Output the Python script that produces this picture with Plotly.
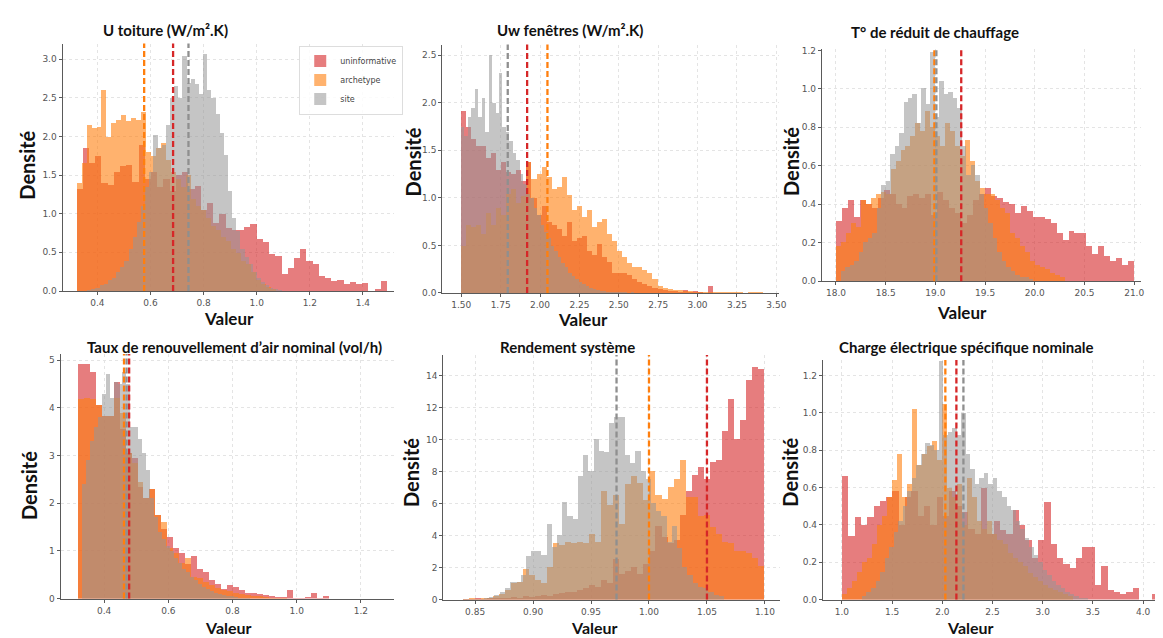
import plotly.graph_objects as go

W, H = 1163, 638

# ------------------------------------------------------------------ data
titles = ["U toiture (W/m².K)", "Uw fenêtres (W/m².K)", "T° de réduit de chauffage",
          "Taux de renouvellement d’air nominal (vol/h)", "Rendement système",
          "Charge électrique spécifique nominale"]
series = ["uninformative", "archetype", "site"]

# bin edges: (first edge, bin width) for uninformative, archetype, site
u_toiture_bins = [(0.32, 0.0234), (0.32, 0.0188), (0.36, 0.0156)]
u_toiture_uninformative = [1.32, 1.85, 1.66, 1.75, 1.40, 1.38, 1.55, 1.62, 1.64, 1.42,
                           1.90, 1.45, 1.55, 1.35, 1.45, 1.30, 1.50, 1.55, 1.32, 1.36,
                           1.05, 1.15, 0.88, 1.00, 0.82, 0.79, 0.80, 0.83, 0.87, 0.68,
                           0.64, 0.49, 0.46, 0.23, 0.30, 0.43, 0.55, 0.40, 0.36, 0.20,
                           0.18, 0.13, 0.15, 0.10, 0.12, 0.10, 0.11, 0.00, 0.03, 0.13]
u_toiture_archetype = [1.40, 1.66, 2.15, 2.11, 2.13, 2.60, 2.00, 2.18, 2.22, 2.28,
                       2.20, 2.24, 2.22, 2.32, 1.80, 1.75, 1.85, 1.92, 1.70, 1.55,
                       1.45, 1.35, 1.50, 1.20, 1.10, 1.05, 0.95, 0.85, 0.80, 0.70,
                       0.65, 0.55, 0.50, 0.40, 0.35, 0.25, 0.15, 0.10, 0.06, 0.03]
u_toiture_site = [0.02, 0.03, 0.05, 0.08, 0.10, 0.15, 0.18, 0.25, 0.32, 0.40,
                  0.55, 0.70, 0.90, 1.10, 1.35, 1.55, 2.02, 1.85, 1.90, 2.15,
                  2.50, 2.66, 2.50, 3.04, 2.70, 2.75, 2.68, 2.55, 3.07, 2.60,
                  2.50, 2.30, 2.05, 1.77, 1.30, 0.95, 0.78, 0.55, 0.45, 0.35,
                  0.25, 0.18, 0.12, 0.08, 0.05, 0.03, 0.02, 0.01]
u_toiture_means = [0.685, 0.576, 0.743]

uw_bins = [(1.5, 0.032), (1.5, 0.032), (1.5, 0.022)]
uw_uninformative = [1.92, 1.75, 1.62, 1.55, 1.55, 1.42, 1.48, 1.30, 1.38, 1.28,
                    1.25, 1.30, 1.18, 1.38, 1.00, 0.82, 0.92, 0.75, 0.72, 0.68,
                    0.60, 0.75, 0.55, 0.58, 0.60, 0.45, 0.40, 0.52, 0.38, 0.33,
                    0.22, 0.22, 0.21, 0.19, 0.15, 0.12, 0.10, 0.08, 0.06, 0.05,
                    0.04, 0.03, 0.03, 0.02, 0.04, 0.02, 0.03, 0.02, 0.00, 0.08]
uw_archetype = [0.50, 0.72, 0.70, 0.72, 0.62, 0.85, 0.72, 0.90, 0.82, 1.05,
                1.10, 0.95, 1.02, 1.38, 1.20, 1.25, 1.33, 1.22, 1.10, 1.12,
                1.22, 1.03, 0.88, 0.92, 0.80, 0.88, 0.70, 0.75, 0.78, 0.62,
                0.55, 0.45, 0.38, 0.32, 0.28, 0.28, 0.25, 0.22, 0.15, 0.08,
                0.06, 0.05, 0.04, 0.04, 0.03, 0.03, 0.02, 0.02, 0.02, 0.01,
                0.02, 0.01, 0.01, 0.02, 0.01, 0.01, 0.00, 0.01, 0.01, 0.02]
uw_site = [1.75, 1.65, 1.85, 1.95, 2.15, 1.85, 2.05, 1.70, 2.50, 2.00,
           1.90, 2.32, 1.75, 1.70, 1.60, 1.48, 1.40, 1.25, 1.15, 1.05,
           1.00, 0.90, 0.82, 0.72, 0.65, 0.58, 0.50, 0.45, 0.38, 0.32,
           0.28, 0.22, 0.18, 0.15, 0.12, 0.10, 0.08, 0.06, 0.05, 0.04,
           0.03, 0.03, 0.02, 0.02, 0.01, 0.01, 0.01, 0.01, 0.00, 0.01]
uw_means = [1.918, 2.047, 1.795]

treduit_bins = [(18.0, 0.06), (18.0, 0.05), (18.05, 0.045)]
treduit_uninformative = [0.31, 0.38, 0.42, 0.33, 0.42, 0.40, 0.38, 0.43, 0.47, 0.45,
                         0.40, 0.38, 0.44, 0.45, 0.43, 0.45, 0.34, 0.46, 0.42, 0.38,
                         0.35, 0.30, 0.34, 0.42, 0.45, 0.48, 0.44, 0.43, 0.41, 0.40,
                         0.35, 0.39, 0.36, 0.33, 0.33, 0.32, 0.30, 0.25, 0.21, 0.26,
                         0.25, 0.25, 0.18, 0.14, 0.18, 0.13, 0.10, 0.12, 0.08, 0.10]
treduit_archetype = [0.18, 0.20, 0.25, 0.30, 0.28, 0.42, 0.40, 0.43, 0.45, 0.46,
                     0.45, 0.58, 0.62, 0.68, 0.70, 0.75, 0.82, 0.78, 0.88, 0.80,
                     0.75, 0.70, 0.82, 0.78, 0.70, 0.65, 0.73, 0.62, 0.52, 0.48,
                     0.45, 0.45, 0.42, 0.38, 0.35, 0.25, 0.22, 0.18, 0.15, 0.10,
                     0.08, 0.07, 0.06, 0.04, 0.03, 0.02]
treduit_site = [0.05, 0.07, 0.08, 0.10, 0.15, 0.20, 0.22, 0.25, 0.38, 0.50,
                0.52, 0.66, 0.70, 0.77, 0.93, 0.95, 0.97, 0.82, 1.00, 0.92,
                1.19, 0.85, 1.04, 0.97, 0.98, 0.95, 0.90, 0.70, 0.55, 0.60,
                0.55, 0.45, 0.38, 0.30, 0.22, 0.15, 0.10, 0.07, 0.05, 0.03,
                0.02, 0.02, 0.01]
treduit_means = [19.26, 18.99, 19.01]

air_bins = [(0.317, 0.0186), (0.317, 0.0186), (0.33, 0.0125)]
air_uninformative = [4.93, 4.93, 4.75, 4.05, 3.82, 3.82, 4.55, 3.55, 3.05, 2.95,
                     2.35, 2.10, 2.30, 1.75, 1.45, 1.30, 1.05, 0.95, 0.72, 0.90,
                     0.62, 0.55, 0.38, 0.30, 0.20, 0.28, 0.25, 0.18, 0.12, 0.12,
                     0.10, 0.08, 0.05, 0.03, 0.04, 0.18, 0.02, 0.01, 0.03, 0.12,
                     0.02, 0.05]
air_archetype = [4.18, 4.20, 4.18, 4.05, 3.82, 3.82, 4.20, 3.90, 3.05, 2.85,
                 2.45, 2.10, 2.30, 1.75, 1.60, 1.05, 0.95, 0.75, 0.85, 0.45,
                 0.42, 0.35, 0.28, 0.22, 0.18, 0.15, 0.12, 0.10, 0.08, 0.06,
                 0.05, 0.03, 0.02, 0.02, 0.01]
air_site = [2.40, 2.90, 3.30, 3.60, 3.80, 4.30, 4.70, 4.20, 4.55, 4.50,
            4.75, 4.50, 3.60, 3.60, 3.35, 3.05, 2.70, 2.10, 1.70, 1.40,
            1.25, 1.10, 1.00, 0.85, 0.75, 0.62, 0.55, 0.45, 0.38, 0.30,
            0.25, 0.20, 0.16, 0.12, 0.10, 0.08, 0.06, 0.05, 0.03, 0.02,
            0.02, 0.01]
air_means = [0.478, 0.462, 0.470]

rend_bins = [(0.8395, 0.0052), (0.8395, 0.0052), (0.84, 0.0045)]
rend_uninformative = [0.05, 0.05, 0.08, 0.05, 0.10, 0.08, 0.10, 0.12, 0.15, 0.12,
                      0.20, 0.18, 0.25, 0.30, 0.25, 0.35, 0.40, 0.50, 0.45, 0.60,
                      0.70, 0.90, 0.80, 1.20, 1.00, 2.50, 1.60, 1.80, 2.00, 1.60,
                      2.20, 3.00, 4.60, 3.90, 3.50, 3.70, 5.30, 6.80, 7.80, 8.30,
                      7.50, 8.60, 8.70, 10.50, 12.50, 10.00, 11.20, 13.70, 14.50, 14.40]
rend_archetype = [0.05, 0.08, 0.05, 0.10, 0.12, 0.20, 0.35, 0.60, 1.05, 1.10,
                  1.90, 1.50, 1.20, 1.00, 2.00, 3.50, 3.40, 3.60, 3.50, 3.60,
                  3.55, 4.10, 3.60, 6.80, 5.90, 6.50, 4.70, 7.20, 7.70, 7.30,
                  6.20, 8.00, 6.50, 6.30, 7.00, 7.50, 8.70, 6.40, 6.40, 5.20,
                  5.30, 4.50, 4.10, 3.60, 3.50, 3.00, 3.00, 2.90, 2.60, 2.10]
rend_site = [0.02, 0.03, 0.05, 0.05, 0.08, 0.15, 0.30, 0.50, 0.70, 1.10,
             1.10, 1.50, 2.70, 3.00, 3.00, 2.80, 4.70, 3.30, 4.00, 6.10,
             5.20, 5.00, 7.70, 9.00, 8.00, 10.00, 9.30, 9.20, 11.00, 11.40,
             11.40, 9.00, 8.50, 9.30, 8.00, 7.50, 6.00, 5.50, 5.20, 3.60,
             4.60, 3.20, 2.00, 1.50, 1.00, 0.80, 0.70, 0.50, 0.30, 0.20]
rend_means = [1.05, 1.00, 0.972]

charge_bins = [(1.0, 0.063), (1.0, 0.05), (1.2, 0.045)]
charge_uninformative = [0.66, 0.34, 0.44, 0.40, 0.44, 0.50, 0.53, 0.55, 0.58, 0.40,
                        0.55, 0.58, 0.45, 0.50, 0.40, 0.55, 0.45, 0.58, 0.50, 0.47,
                        0.38, 0.35, 0.60, 0.35, 0.42, 0.37, 0.35, 0.48, 0.40, 0.32,
                        0.22, 0.32, 0.52, 0.30, 0.22, 0.19, 0.17, 0.22, 0.28, 0.28,
                        0.08, 0.18, 0.05, 0.04, 0.03, 0.04, 0.06, 0.00, 0.00, 0.03]
charge_archetype = [0.03, 0.06, 0.10, 0.15, 0.20, 0.22, 0.30, 0.40, 0.45, 0.55,
                    0.64, 0.78, 0.55, 0.62, 1.02, 0.72, 0.78, 0.82, 0.85, 0.75,
                    1.05, 0.60, 0.55, 0.62, 0.40, 0.65, 0.55, 0.42, 0.38, 0.42,
                    0.35, 0.32, 0.30, 0.25, 0.22, 0.20, 0.18, 0.14, 0.12, 0.10,
                    0.08, 0.06, 0.05, 0.04, 0.03, 0.02]
charge_site = [0.02, 0.04, 0.06, 0.10, 0.15, 0.22, 0.28, 0.36, 0.42, 0.50,
               0.58, 0.65, 0.72, 0.78, 0.84, 0.83, 0.80, 1.28, 0.88, 0.90,
               0.92, 0.88, 1.00, 0.78, 0.70, 0.62, 0.65, 0.68, 0.62, 0.65,
               0.58, 0.55, 0.50, 0.48, 0.42, 0.38, 0.33, 0.28, 0.24, 0.20,
               0.16, 0.13, 0.10, 0.08, 0.06, 0.04, 0.03, 0.02, 0.01, 0.01]
charge_means = [2.14, 2.03, 2.21]

# axis ticks per panel
x_ticks = [[0.4, 0.6, 0.8, 1.0, 1.2, 1.4],
           [1.5, 1.75, 2.0, 2.25, 2.5, 2.75, 3.0, 3.25, 3.5],
           [18.0, 18.5, 19.0, 19.5, 20.0, 20.5, 21.0],
           [0.4, 0.6, 0.8, 1.0, 1.2],
           [0.85, 0.90, 0.95, 1.00, 1.05, 1.10],
           [1.0, 1.5, 2.0, 2.5, 3.0, 3.5, 4.0]]
x_fmt = [".1f", ".2f", ".1f", ".1f", ".2f", ".1f"]
y_ticks = [[0, 0.5, 1.0, 1.5, 2.0, 2.5, 3.0],
           [0, 0.5, 1.0, 1.5, 2.0, 2.5],
           [0, 0.2, 0.4, 0.6, 0.8, 1.0, 1.2],
           [0, 1, 2, 3, 4, 5],
           [0, 2, 4, 6, 8, 10, 12, 14],
           [0, 0.2, 0.4, 0.6, 0.8, 1.0, 1.2]]
y_fmt = [".1f", ".1f", ".1f", "d", "d", ".1f"]
x_ranges = [[0.269, 1.516], [1.38, 3.519], [17.86, 21.07],
            [0.2647, 1.302], [0.8226, 1.1133], [0.812, 4.208]]
y_ranges = [[0, 3.2], [0, 2.61], [0, 1.205], [0, 5.13], [0, 15.27], [0, 1.283]]

# ------------------------------------------------------------------ layout geometry (pixels)
plot_boxes = [(55, 388, 32, 283), (437, 776, 33, 285), (819, 1140, 38, 273),
              (53, 388, 347, 595), (438, 777, 348, 596), (820, 1163, 353, 596)]
title_pos = [(158, 18), (565, 18), (933, 20), (228, 340), (563, 340), (964, 340)]
ylab_pos = [(19, 155), (407, 152), (788, 152), (21, 480), (406, 467), (787, 467)]
xlab_pos = [(222, 311), (578, 312), (960, 305), (222, 624), (590, 624), (968, 624)]

fill = {"uninformative": "rgba(214,39,40,0.6)",
        "archetype": "rgba(255,127,14,0.6)",
        "site": "rgba(150,150,150,0.55)"}
mean_col = {"uninformative": "#d62728", "archetype": "#ff7f0e", "site": "#8f8f8f"}

panels = [
    (u_toiture_bins, [u_toiture_uninformative, u_toiture_archetype, u_toiture_site], u_toiture_means),
    (uw_bins, [uw_uninformative, uw_archetype, uw_site], uw_means),
    (treduit_bins, [treduit_uninformative, treduit_archetype, treduit_site], treduit_means),
    (air_bins, [air_uninformative, air_archetype, air_site], air_means),
    (rend_bins, [rend_uninformative, rend_archetype, rend_site], rend_means),
    (charge_bins, [charge_uninformative, charge_archetype, charge_site], charge_means),
]

fig = go.Figure()
shapes, annotations = [], []
layout_axes = {}

def px2x(px):
    return px / W

def py2y(py):
    return 1 - py / H

def fmt(v, f):
    return format(int(round(v)), "d") if f == "d" else format(v, f)

def label(text, pos, size, angle=0):
    return dict(text=text, x=px2x(pos[0]), y=py2y(pos[1]), textangle=angle,
                xref="paper", yref="paper", xanchor="center", yanchor="middle",
                showarrow=False, font=dict(family="Lato", size=size, color="#111111"))

for p, (bins, vals, means) in enumerate(panels):
    n = "" if p == 0 else str(p + 1)
    xa, ya = "x" + n, "y" + n
    for k, name in enumerate(series):
        start, width = bins[k]
        centers = [start + width * (i + 0.5) for i in range(len(vals[k]))]
        fig.add_trace(go.Bar(
            x=centers, y=vals[k], width=width, name=name,
            marker=dict(color=fill[name], line=dict(width=0)),
            xaxis=xa, yaxis=ya, legendgroup=name, showlegend=(p == 0),
            hoverinfo="skip"))
    for k, name in enumerate(series):
        shapes.append(dict(type="line", xref=xa, yref=ya + " domain",
                           x0=means[k], x1=means[k], y0=0, y1=1, layer="above",
                           line=dict(color=mean_col[name], width=2.3, dash="6px,3px")))
    l, r, t, b = plot_boxes[p]
    axis_common = dict(showline=True, linecolor="#5a5a5a", linewidth=1.3,
                       ticks="outside", ticklen=3, tickcolor="#5a5a5a",
                       showgrid=True, gridcolor="#e4e4e4", griddash="dot", gridwidth=1,
                       zeroline=False, mirror=False,
                       tickfont=dict(family="DejaVu Sans", size=9, color="#555555"))
    layout_axes["xaxis" + n] = dict(axis_common, domain=[px2x(l), px2x(r)], range=x_ranges[p],
                                    anchor=ya, tickvals=x_ticks[p],
                                    ticktext=[fmt(v, x_fmt[p]) for v in x_ticks[p]])
    layout_axes["yaxis" + n] = dict(axis_common, domain=[py2y(b), py2y(t)], range=y_ranges[p],
                                    anchor=xa, tickvals=y_ticks[p],
                                    ticktext=[fmt(v, y_fmt[p]) for v in y_ticks[p]])
    annotations.append(label("<b>" + titles[p] + "</b>", title_pos[p], 15))
    annotations.append(label("<b>Densité</b>", ylab_pos[p], 20, -90))
    annotations.append(label("<b>Valeur</b>", xlab_pos[p], 16 if p >= 3 else 17))

fig.update_layout(
    width=W, height=H, autosize=False,
    margin=dict(l=0, r=0, t=0, b=0),
    paper_bgcolor="white", plot_bgcolor="white",
    barmode="overlay", bargap=0,
    shapes=shapes, annotations=annotations,
    legend=dict(x=px2x(293), y=py2y(34), xanchor="left", yanchor="top",
                font=dict(family="DejaVu Sans", size=8, color="#444444"),
                bgcolor="rgba(255,255,255,0.85)", bordercolor="#dddddd", borderwidth=1,
                itemwidth=30, tracegroupgap=0),
    **layout_axes,
)

fig.write_html("out.html")
